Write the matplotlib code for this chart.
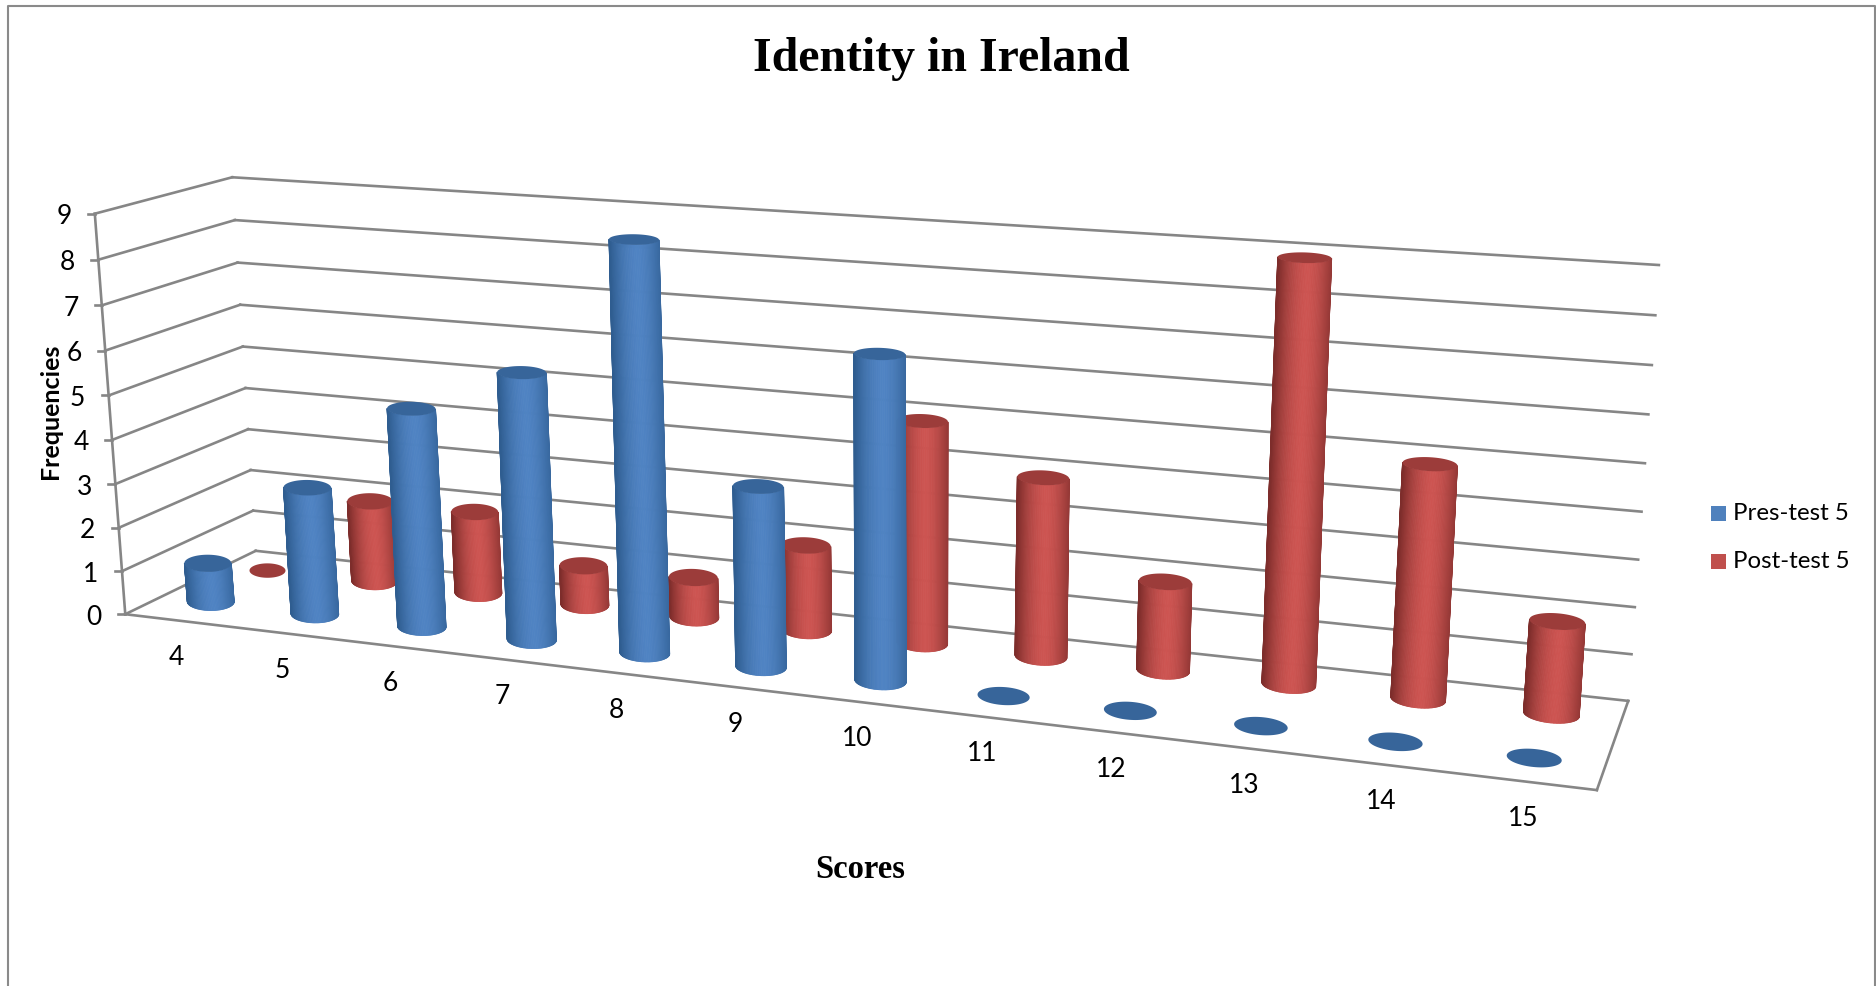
from __future__ import annotations

import matplotlib

matplotlib.use("Agg")
import matplotlib.pyplot as plt
import numpy as np
from matplotlib.collections import PolyCollection
from matplotlib.colors import to_rgb
from matplotlib.patches import Polygon, Rectangle

scores = [4, 5, 6, 7, 8, 9, 10, 11, 12, 13, 14, 15]
pre_test = [1, 3, 5, 6, 9, 4, 7, 0, 0, 0, 0, 0]
post_test = [0, 2, 2, 1, 1, 2, 5, 4, 2, 9, 5, 2]
freq_ticks = [0, 1, 2, 3, 4, 5, 6, 7, 8, 9]

GRID = "#868686"
BLUE = ("#4f83c3", "#2f5d90", "#37659a")
RED = ("#cd5451", "#7d2d2b", "#9c3c3a")

# box corners (category, depth, frequency) and where they land on the canvas
box = np.array([[0, 0, 0], [0, 0, 9], [0, 1, 0], [0, 1, 9],
                [12, 1, 0], [12, 1, 9], [12, 0, 0]], dtype=float)
canvas = np.array([[124, 614], [96, 214], [257, 551], [231, 177],
                   [1628, 701], [1659, 265], [1597, 790]], dtype=float)


def fit_camera(world, screen):
    rows, rhs = [], []
    for (x, y, z), (u, v) in zip(world, screen):
        rows.append([x, y, z, 1, 0, 0, 0, 0, -u * x, -u * y, -u * z])
        rows.append([0, 0, 0, 0, x, y, z, 1, -v * x, -v * y, -v * z])
        rhs += [u, v]
    sol = np.linalg.lstsq(np.array(rows), np.array(rhs), rcond=None)[0]
    return np.append(sol, 1).reshape(3, 4)


camera = fit_camera(box, canvas)


def project(x, depth, z):
    p = camera @ np.array([x, depth, z, 1.0])
    return p[:2] / p[2]


def line3d(ax, a, b, **kw):
    pa, pb = project(*a), project(*b)
    ax.plot([pa[0], pb[0]], [pa[1], pb[1]], color=GRID, lw=1.9,
            solid_capstyle="projecting", **kw)


def ellipse(center, half_w, half_h, tilt, t):
    c, s = np.cos(tilt), np.sin(tilt)
    ex, ey = half_w * np.cos(t), half_h * np.sin(t)
    return np.column_stack([center[0] + ex * c - ey * s,
                            center[1] + ex * s + ey * c])


def cylinder(ax, x, depth, value, colors, half_w, scale=1.0):
    mid, edge, cap = [np.array(to_rgb(c)) for c in colors]
    half_w = half_w * scale
    base_tilt = np.radians(6 * x / 12)
    top_tilt = base_tilt * max(1 - value / 14, 0.2)
    base = project(x, depth, 0)
    base[1] -= 2 * (1 - x / 12)
    top = project(x, depth, value)
    if value > 0:
        top[1] += 2.4
    base_h = 9 * scale
    top_h = base_h * (1 - value / 22)

    if value > 0:
        t = np.linspace(0, np.pi, 61)
        low = ellipse(base, half_w, base_h, base_tilt, t)
        high = ellipse(top, half_w, top_h, top_tilt, t)
        strips, shades = [], []
        for i in range(len(t) - 1):
            strips.append([low[i], low[i + 1], high[i + 1], high[i]])
            across = np.cos((t[i] + t[i + 1]) / 2)
            w = min(abs(across - 0.1) / 1.1, 1) ** 1.7
            shades.append(mid * (1 - w) + edge * w)
        ax.add_collection(PolyCollection(strips, facecolors=shades, edgecolors=shades,
                                         linewidths=0.6, zorder=3))
    t = np.linspace(0, 2 * np.pi, 81)
    ax.add_patch(Polygon(ellipse(top, half_w, top_h, top_tilt, t), closed=True,
                         facecolor=cap, edgecolor="none", zorder=3))


fig = plt.figure(figsize=(18.76, 9.86), dpi=100)
ax = fig.add_axes([0, 0, 1, 1])
ax.set_xlim(0, 1876)
ax.set_ylim(986, 0)
ax.axis("off")

n = len(scores)

# walls and floor outline
for v in freq_ticks:
    line3d(ax, (0, 0, v), (0, 1, v))
    line3d(ax, (0, 1, v), (n, 1, v))
    tick = project(0, 0, v)
    ax.plot([tick[0] - 7, tick[0]], [tick[1], tick[1]], color=GRID, lw=1.9)
    ax.text(tick[0] - 31, tick[1] + 3, str(v), ha="center", va="center",
            fontsize=19, family="Lato", color="black")
line3d(ax, (0, 0, 0), (0, 0, 9))
line3d(ax, (0, 0, 0), (n, 0, 0))
line3d(ax, (n, 0, 0), (n, 1, 0))

# back row first so the front row overlaps it
for i, v in enumerate(post_test):
    pos = i + (0.43 if v == 0 else 0.49)
    cylinder(ax, pos, 0.75, v, RED, 22.5 + 6 * i / 12, scale=0.8 if v == 0 else 1.0)
for i, v in enumerate(pre_test):
    cylinder(ax, i + 0.5, 0.25, v, BLUE, 23.5 + 4.5 * i / 12)

for i, s in enumerate(scores):
    p = project(i + 0.5, 0, 0)
    ax.text(p[0] - 1, p[1] + 37, str(s), ha="center", va="center",
            fontsize=19, family="Lato", color="black")

ax.text(941, 59, "Identity in Ireland", ha="center", va="center", fontsize=34.5,
        family="Liberation Serif", fontweight="bold")
ax.text(860, 869, "Scores", ha="center", va="center", fontsize=23.5,
        family="Liberation Serif", fontweight="bold")
ax.text(51, 411, "Frequencies", ha="center", va="center", rotation=90, fontsize=18,
        family="Lato", fontweight="bold")

# legend
for y, label, color in [(513, "Pres-test 5", "#4f81bd"), (561, "Post-test 5", "#c0504d")]:
    ax.add_patch(Rectangle((1711, y - 7.5), 15, 15, facecolor=color, edgecolor="none"))
    ax.text(1733, y, label, ha="left", va="center", fontsize=17.3, family="Lato")

# chart frame, open at the bottom
ax.plot([8, 8, 1875, 1875], [986, 6, 6, 986], color="#8a8a8a", lw=1.5)

fig.savefig("out.png", dpi=100)
plt.close(fig)
